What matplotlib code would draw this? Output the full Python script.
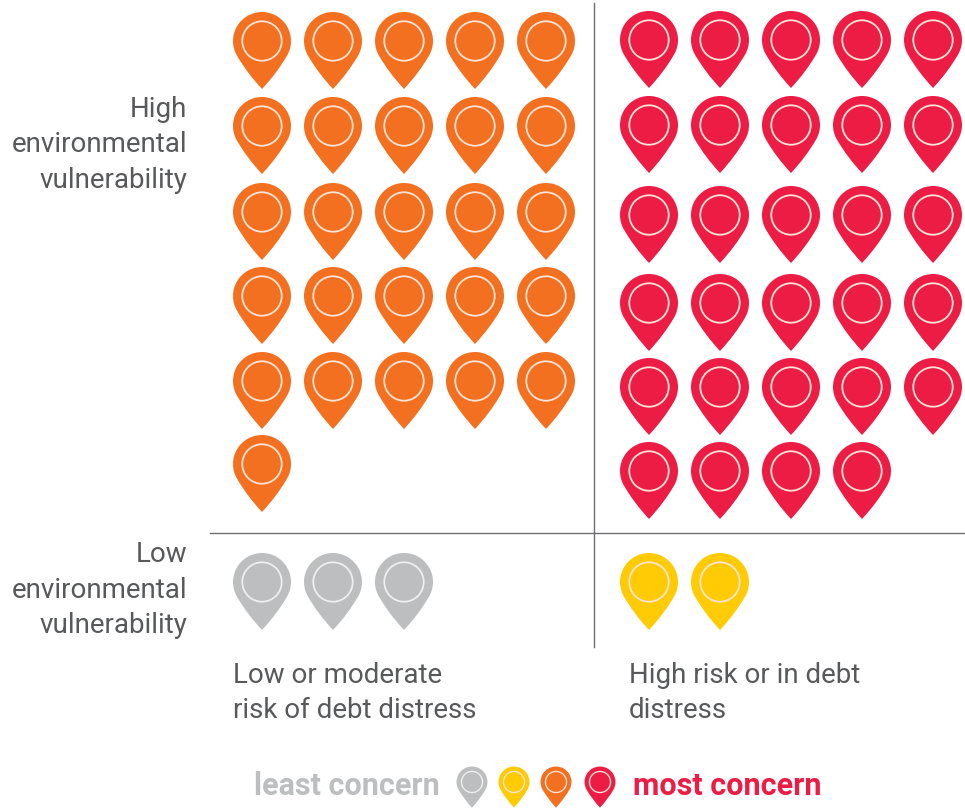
import matplotlib
matplotlib.use('Agg')
import matplotlib.pyplot as plt
import numpy as np
from matplotlib.patches import Circle, PathPatch
from matplotlib.path import Path
from matplotlib.transforms import Affine2D

# number of countries in each box
count_high_low = 26
count_high_high = 29
count_low_low = 3
count_low_high = 2

legend_colors = ['#BCBEC0', '#FFCB05', '#F37021', '#ED1C45']
row_labels = ['High\nenvironmental\nvulnerability', 'Low\nenvironmental\nvulnerability']
col_labels = ['Low or moderate\nrisk of debt distress', 'High risk or in debt\ndistress']
legend_left = 'least concern'
legend_right = 'most concern'

# layout, in pixels of the reference
left_cols = [262, 333, 404, 475, 546]
right_cols = [649, 720, 791, 862, 933]
orange_rows = [41, 126, 212, 296, 381, 464]
red_rows = [40, 125, 215, 303, 387, 471]
low_row = [582]


def pin_path():
    # unit circle on top, slightly bulging sides down to the tip, y pointing up
    tip = 48 / 29
    arc = Path.arc(-30, 210)
    c = np.array([0.516, -1.106])
    verts = np.vstack([arc.vertices, [-c[0], c[1]], [0, -tip], c, arc.vertices[0], arc.vertices[0]])
    codes = list(arc.codes) + [Path.CURVE3, Path.CURVE3, Path.CURVE3, Path.CURVE3, Path.CLOSEPOLY]
    return Path(verts, codes)


PIN = pin_path()


def draw_pin(ax, x, y, color, r=29):
    # the axis is flipped so flip the shape too
    tr = Affine2D().scale(r, -r).translate(x, y) + ax.transData
    ax.add_patch(PathPatch(PIN, facecolor=color, edgecolor='none', transform=tr))
    ring = '#EEEEEE' if color == '#BCBEC0' else '#FBE3D6'
    ax.add_patch(Circle((x, y), r * 0.68, facecolor='none', edgecolor=ring, lw=1.3 * max(r / 29, 0.75)))


def draw_group(ax, count, cols, rows, color):
    for i in range(count):
        draw_pin(ax, cols[i % len(cols)], rows[i // len(cols)], color)


fig = plt.figure(figsize=(9.65, 8.08), dpi=100)
ax = fig.add_axes([0, 0, 1, 1])
ax.set_xlim(0, 965)
ax.set_ylim(808, 0)
ax.axis('off')

ax.plot([210, 965], [533, 533], color='#6D6E71', lw=1.0)
ax.plot([594, 594], [3, 647], color='#6D6E71', lw=1.0)

draw_group(ax, count_high_low, left_cols, orange_rows, '#F37021')
draw_group(ax, count_high_high, right_cols, red_rows, '#ED1C45')
draw_group(ax, count_low_low, left_cols, low_row, '#BCBEC0')
draw_group(ax, count_low_high, right_cols, low_row, '#FFCB05')

txt = dict(family='Roboto', fontsize=20, color='#58595B', linespacing=1.39, weight='normal')
ax.text(187, 145, row_labels[0], ha='right', va='center', **txt)
ax.text(187, 590, row_labels[1], ha='right', va='center', **txt)
ax.text(233, 693, col_labels[0], ha='left', va='center', **txt)
ax.text(629, 693, col_labels[1], ha='left', va='center', **txt)

ax.text(254, 786, legend_left, ha='left', va='center', family='Roboto', weight='bold', fontsize=22, color='#BCBEC0')
ax.text(633, 786, legend_right, ha='left', va='center', family='Roboto', weight='bold', fontsize=22, color='#ED1C45')
for x, c in zip([472, 514, 556, 600], legend_colors):
    draw_pin(ax, x, 782, c, r=15.5)

fig.savefig('out.png', dpi=100)
